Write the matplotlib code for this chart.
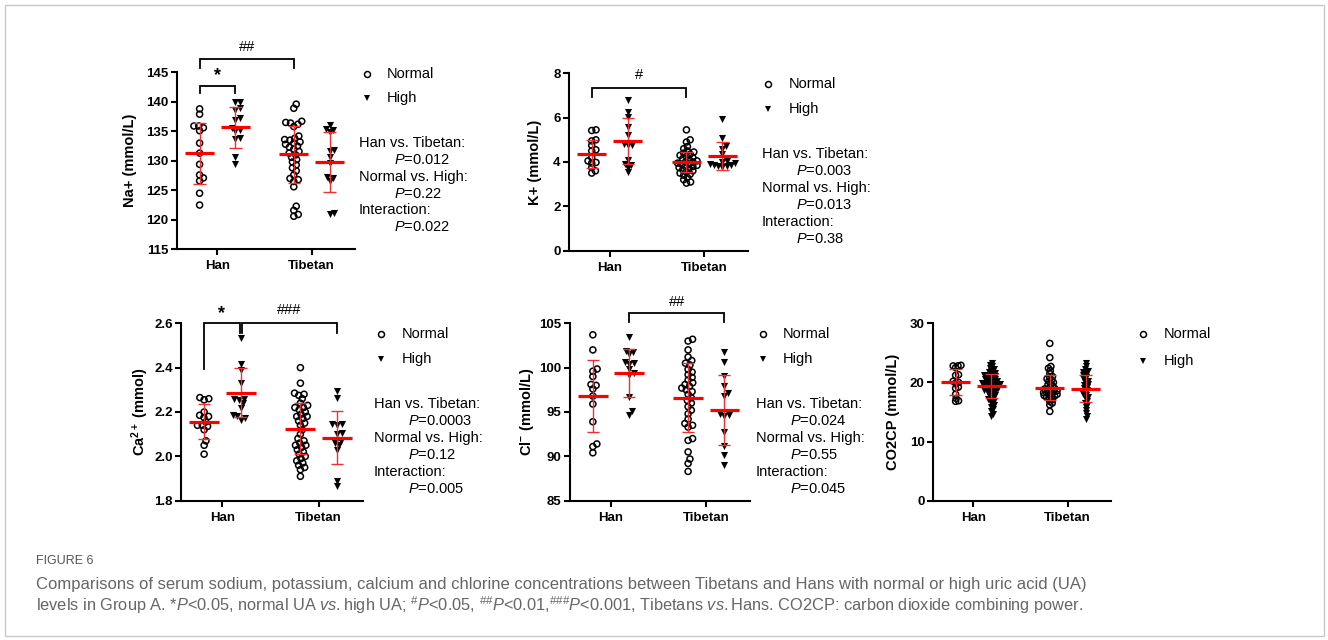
import numpy as np
import matplotlib
matplotlib.use("Agg")
import matplotlib.pyplot as plt
from matplotlib.patches import Rectangle

plt.rcParams['font.family'] = ['Liberation Sans', 'DejaVu Sans']
plt.rcParams['mathtext.fontset'] = 'custom'
plt.rcParams['mathtext.rm'] = 'Liberation Sans'
plt.rcParams['mathtext.it'] = 'Liberation Sans:italic'
plt.rcParams['mathtext.bf'] = 'Liberation Sans:bold'

# ---- data (group order: Han normal, Han high, Tibetan normal, Tibetan high)
groups = ["Han", "Tibetan"]
legend_labels = ["Normal", "High"]

na_han_normal = [138.8, 137.9, 135.9, 135.6, 135.1, 135.9, 133.0, 131.3, 129.4, 127.6, 127.1, 126.6, 124.5, 122.5]
na_han_high = [140.0, 139.9, 139.0, 138.6, 137.2, 137.0, 135.6, 135.3, 135.1, 133.9, 133.7, 130.6, 129.5]
na_tib_normal = [139.6, 138.9, 136.7, 136.5, 136.4, 136.2, 135.8, 134.2, 133.8, 133.6, 133.5, 133.2, 133.0,
                 132.8, 132.5, 132.3, 132.0, 131.6, 131.3, 131.0, 130.6, 130.2, 129.8, 129.3, 128.8, 128.3,
                 127.6, 127.0, 126.8, 126.5, 125.6, 122.3, 121.6, 120.9, 120.6]
na_tib_high = [136.0, 135.4, 135.3, 134.8, 131.8, 131.7, 130.6, 129.6, 127.3, 127.1, 126.6, 121.2, 121.0]
na_mean = [131.3, 135.7, 131.1, 129.8]
na_sd = [5.15, 3.5, 4.8, 5.05]

k_han_normal = [5.45, 5.42, 5.0, 4.95, 4.75, 4.55, 4.5, 4.2, 4.05, 3.98, 3.95, 3.75, 3.6, 3.5]
k_han_high = [6.8, 6.27, 6.05, 5.6, 5.2, 4.8, 4.78, 4.75, 4.1, 3.9, 3.85, 3.75, 3.55]
k_tib_normal = [5.45, 5.0, 4.9, 4.7, 4.6, 4.5, 4.45, 4.4, 4.35, 4.3, 4.25, 4.2, 4.15, 4.1, 4.05, 4.0, 4.0,
                3.95, 3.9, 3.9, 3.85, 3.8, 3.8, 3.75, 3.7, 3.65, 3.6, 3.55, 3.5, 3.45, 3.4, 3.3, 3.2, 3.1, 3.05]
k_tib_high = [5.95, 5.07, 4.7, 4.6, 4.35, 4.05, 4.0, 3.95, 3.9, 3.88, 3.85, 3.82, 3.8, 3.78]
k_mean = [4.36, 4.95, 4.0, 4.27]
k_sd = [0.64, 1.02, 0.47, 0.63]

ca_han_normal = [2.265, 2.26, 2.255, 2.2, 2.185, 2.18, 2.175, 2.155, 2.14, 2.14, 2.135, 2.12, 2.07, 2.05, 2.01]
ca_han_high = [2.535, 2.415, 2.39, 2.33, 2.26, 2.26, 2.255, 2.24, 2.22, 2.185, 2.18, 2.175, 2.165]
ca_tib_normal = [2.40, 2.33, 2.285, 2.28, 2.275, 2.26, 2.24, 2.23, 2.22, 2.22, 2.21, 2.2, 2.19, 2.18, 2.18,
                 2.17, 2.16, 2.15, 2.14, 2.12, 2.1, 2.08, 2.07, 2.06, 2.05, 2.05, 2.04, 2.03, 2.02, 2.01,
                 2.0, 1.99, 1.98, 1.97, 1.96, 1.95, 1.94, 1.91]
ca_tib_high = [2.295, 2.262, 2.145, 2.14, 2.145, 2.105, 2.1, 2.07, 2.06, 2.05, 2.03, 1.89, 1.865]
ca_mean = [2.157, 2.287, 2.125, 2.085]
ca_sd = [0.077, 0.11, 0.115, 0.12]

cl_han_normal = [103.7, 102.0, 99.85, 99.6, 99.0, 98.1, 98.0, 97.6, 96.8, 95.9, 93.9, 91.4, 91.1, 90.4]
cl_han_high = [103.4, 101.9, 101.8, 101.5, 100.6, 100.5, 100.4, 99.8, 99.4, 99.2, 96.7, 94.7, 95.1]
cl_tib_normal = [103.2, 103.0, 102.0, 101.2, 100.8, 100.5, 100.3, 99.8, 99.5, 99.2, 98.9, 98.6, 98.3, 98.1,
                 97.9, 97.7, 97.5, 97.3, 97.0, 96.6, 96.3, 96.0, 95.6, 95.2, 94.8, 94.2, 93.7, 93.5, 93.3,
                 92.0, 91.8, 90.5, 89.7, 89.2, 88.3]
cl_tib_high = [101.8, 100.6, 99.1, 97.9, 97.1, 96.8, 94.8, 94.7, 94.6, 92.7, 91.2, 90.2, 89.0]
cl_mean = [96.85, 99.35, 96.6, 95.25]
cl_sd = [4.05, 2.7, 3.9, 3.95]

co2_han_normal = [22.9, 22.8, 22.8, 22.5, 21.3, 21.2, 20.2, 20.0, 19.9, 19.2, 19.0, 18.0, 17.3, 16.9, 16.8]
co2_han_high = [23.3, 23.0, 22.7, 22.4, 22.2, 22.0, 21.8, 21.6, 21.5, 21.3, 21.2, 21.1, 21.0, 20.9, 20.8,
                20.6, 20.5, 20.4, 20.3, 20.2, 20.1, 20.0, 19.9, 19.9, 19.8, 19.7, 19.6, 19.6, 19.5, 19.4,
                19.3, 19.2, 19.1, 19.0, 18.9, 18.8, 18.7, 18.6, 18.5, 18.4, 18.2, 18.0, 17.8, 17.6, 17.4,
                17.2, 17.0, 16.8, 16.5, 16.2, 15.9, 15.5, 15.1, 14.7, 14.3]
co2_tib_normal = [26.6, 24.2, 22.7, 22.4, 22.0, 21.5, 21.0, 20.8, 20.6, 20.4, 20.2, 20.0, 19.8, 19.6, 19.4,
                  19.2, 19.0, 18.9, 18.8, 18.7, 18.6, 18.5, 18.4, 18.3, 18.2, 18.1, 18.0, 17.9, 17.8, 17.7,
                  17.6, 17.5, 17.3, 17.1, 16.8, 16.5, 16.2, 15.1]
co2_tib_high = [23.3, 22.8, 22.2, 22.0, 21.8, 21.6, 21.3, 21.0, 20.8, 20.5, 20.3, 20.0, 19.8, 19.5, 19.3,
                19.0, 18.8, 18.5, 18.3, 18.0, 17.8, 17.5, 17.2, 16.8, 16.5, 16.2, 15.8, 15.3, 14.8, 14.3, 13.9]
co2_mean = [20.05, 19.4, 19.1, 18.95]
co2_sd = [2.2, 1.95, 2.15, 2.3]

na_stats = ["0.012", "0.22", "0.022"]
k_stats = ["0.003", "0.013", "0.38"]
ca_stats = ["0.0003", "0.12", "0.005"]
cl_stats = ["0.024", "0.55", "0.045"]
stat_titles = ["Han vs. Tibetan:", "Normal vs. High:", "Interaction:"]

caption_title = "FIGURE 6"
caption_1 = ("Comparisons of serum sodium, potassium, calcium and chlorine concentrations between "
             "Tibetans and Hans with normal or high uric acid (UA)")
caption_2 = (r"levels in Group A. *$\it{P}$<0.05, normal UA $\it{vs.}$high UA; $^{\#}\it{P}$<0.05, "
             r"$^{\#\#}\it{P}$<0.01,$^{\#\#\#}\it{P}$<0.001, Tibetans $\it{vs.}$Hans. "
             r"CO2CP: carbon dioxide combining power.")

# ---- layout (pixels of the 1328x640 canvas)
W, H = 1328, 640
OFF = 0.19
pos = {"HN": -OFF, "HH": OFF, "TN": 1 - OFF, "TH": 1 + OFF}

panels = [
    dict(rect=(177, 72.3, 355, 249.3), ylabel="Na+ (mmol/L)", ylab_x=130,
         data=[na_han_normal, na_han_high, na_tib_normal, na_tib_high], mean=na_mean, sd=na_sd,
         ylim=(115, 145), yticks=[115, 120, 125, 130, 135, 140, 145], fmt="{:.0f}",
         leg=(367, 387, 74, 98), stats=na_stats, stat_xy=(359, 394, 141.7), d=4.8,
         brackets=[("HN", 0, "TN", 0, 147.25, 145.73, 145.73, "##", 149.3),
                   ("HN", 0, "HH", 0, 142.7, 141.5, 141.5, "*", 144.4)]),
    dict(rect=(569, 73.3, 748, 250.7), ylabel="K+ (mmol/L)", ylab_x=535,
         data=[k_han_normal, k_han_high, k_tib_normal, k_tib_high], mean=k_mean, sd=k_sd,
         ylim=(0, 8), yticks=[0, 2, 4, 6, 8], fmt="{:.0f}",
         leg=(768, 789, 84, 109), stats=k_stats, stat_xy=(762, 796, 153.3), d=4.3,
         brackets=[("HN", 0, "TN", 0, 7.34, 6.95, 6.95, "#", 7.92)]),
    dict(rect=(181, 323.3, 363, 500.7), ylabel=r"$\mathbf{Ca^{2+}}$ (mmol)", ylab_x=140,
         data=[ca_han_normal, ca_han_high, ca_tib_normal, ca_tib_high], mean=ca_mean, sd=ca_sd,
         ylim=(1.8, 2.6), yticks=[1.8, 2.0, 2.2, 2.4, 2.6], fmt="{:.1f}",
         leg=(381, 402, 334, 359), stats=ca_stats, stat_xy=(374, 408, 403.3), d=4.8,
         brackets=[("HN", 0, "HH", -0.012, 2.6, 2.392, 2.558, "*", 2.645),
                   ("HH", 0.012, "TH", 0, 2.6, 2.558, 2.558, "###", 2.66)]),
    dict(rect=(570, 323.3, 750, 500.7), ylabel=r"$\mathbf{Cl^{-}}$ (mmol/L)", ylab_x=527,
         data=[cl_han_normal, cl_han_high, cl_tib_normal, cl_tib_high], mean=cl_mean, sd=cl_sd,
         ylim=(85, 105), yticks=[85, 90, 95, 100, 105], fmt="{:.0f}",
         leg=(763, 783, 334, 359), stats=cl_stats, stat_xy=(756, 790, 403.3), d=4.8,
         brackets=[("HH", 0, "TH", 0, 106.13, 105.11, 105.11, "##", 107.4)]),
    dict(rect=(933, 323.3, 1111, 500.7), ylabel="CO2CP (mmol/L)", ylab_x=893,
         data=[co2_han_normal, co2_han_high, co2_tib_normal, co2_tib_high], mean=co2_mean, sd=co2_sd,
         ylim=(0, 30), yticks=[0, 10, 20, 30], fmt="{:.0f}",
         leg=(1143, 1164, 334, 361), stats=None, stat_xy=None, d=3.0,
         brackets=[]),
]


def fx(x):
    return x / W


def fy(y):
    return 1 - y / H


def swarm(ypx, d):
    """x offsets (pixels) so that markers of diameter d do not overlap"""
    xs = np.zeros(len(ypx))
    placed = []
    for i in np.argsort(ypx):
        y = ypx[i]
        near = [(px, py) for px, py in placed if abs(py - y) < d]
        cands = [0.0]
        for px, py in near:
            dx = np.sqrt(d * d - (py - y) ** 2)
            cands += [px + dx, px - dx]
        cands.sort(key=abs)
        for c in cands:
            if all((c - px) ** 2 + (y - py) ** 2 >= d * d - 1e-6 for px, py in near):
                xs[i] = c
                break
        placed.append((xs[i], y))
    return xs


fig = plt.figure(figsize=(W / 100, H / 100), dpi=100)
fig.patches.append(Rectangle((fx(4.5), fy(635.5)), fx(1319), 1 - fy(631), transform=fig.transFigure,
                             fill=False, edgecolor="#c8c8c8", linewidth=1.0))

keys = ["HN", "HH", "TN", "TH"]
markers = ["o", "v", "o", "v"]

for p in panels:
    l, t, r, b = p["rect"]
    ax = fig.add_axes([fx(l), fy(b), fx(r - l), (b - t) / H])
    ax.set_xlim(-0.43, 1.46)
    ax.set_ylim(*p["ylim"])
    wpx, hpx = r - l, b - t
    ppx = wpx / (1.46 + 0.43)
    ppy = hpx / (p["ylim"][1] - p["ylim"][0])

    for k, vals, mk, m, s in zip(keys, p["data"], markers, p["mean"], p["sd"]):
        vals = np.array(vals)
        xoff = swarm(vals * ppy, p["d"]) / ppx
        x = pos[k] + xoff
        if mk == "o":
            ax.scatter(x, vals, s=19, marker="o", facecolors="none", edgecolors="black",
                       linewidths=1.1, zorder=2, clip_on=False)
        else:
            ax.scatter(x, vals, s=26, marker="v", color="black", linewidths=0, zorder=2, clip_on=False)
        c = pos[k]
        ax.vlines(c, m - s, m + s, color="#f03030", lw=1.0, zorder=3)
        ax.hlines([m - s, m + s], c - 0.065, c + 0.065, color="#f03030", lw=1.0, zorder=3)
        ax.hlines(m, c - 0.155, c + 0.155, color="#ff0000", lw=2.3, zorder=4)

    for k1, d1, k2, d2, top, y1, y2, lab, ty in p["brackets"]:
        x1, x2 = pos[k1] + d1, pos[k2] + d2
        ax.plot([x1, x1, x2, x2], [y1, top, top, y2], color="black", lw=1.3, clip_on=False,
                solid_joinstyle="miter")
        if lab == "*":
            ax.text((x1 + x2) / 2, ty, lab, ha="center", va="center", fontsize=13,
                    fontweight="bold", clip_on=False)
        else:
            ax.text((x1 + x2) / 2, ty, lab, ha="center", va="center", fontsize=10.5, clip_on=False)

    for side in ["top", "right"]:
        ax.spines[side].set_visible(False)
    for side in ["left", "bottom"]:
        ax.spines[side].set_linewidth(1.5)
    ax.set_xticks([0, 1])
    ax.set_xticklabels(groups, fontsize=9.5, fontweight="bold")
    ax.set_yticks(p["yticks"])
    ax.set_yticklabels([p["fmt"].format(v) for v in p["yticks"]], fontsize=9.5, fontweight="bold")
    ax.tick_params(axis="both", width=1.5, length=4, direction="out")
    ax.tick_params(axis="y", pad=2)
    ax.tick_params(axis="x", pad=4)

    fig.text(fx(p["ylab_x"]), fy((t + b) / 2), p["ylabel"], rotation=90, ha="center", va="center",
             fontsize=10.5, fontweight="bold")

    # legend
    mx, tx, y1, y2 = p["leg"]
    ax.plot([fx(mx)], [fy(y1)], marker="o", ms=4.3, mfc="none", mec="black", mew=1.1,
            transform=fig.transFigure, clip_on=False)
    ax.plot([fx(mx)], [fy(y2)], marker="v", ms=5.0, color="black", mew=0,
            transform=fig.transFigure, clip_on=False)
    fig.text(fx(tx), fy(y1), legend_labels[0], va="center", fontsize=10.5)
    fig.text(fx(tx), fy(y2), legend_labels[1], va="center", fontsize=10.5)

    # two-way ANOVA results
    if p["stats"]:
        sx, ix, sy = p["stat_xy"]
        for i, (title, pv) in enumerate(zip(stat_titles, p["stats"])):
            yc = sy + 2 * i * 16.9
            fig.text(fx(sx), fy(yc + 5.2), title, va="baseline", fontsize=10.5)
            fig.text(fx(ix), fy(yc + 16.9 + 5.2), r"$\it{P}$=" + pv, va="baseline", fontsize=10.5)

cap_font = ["Liberation Sans", "DejaVu Sans"]
fig.text(fx(36), fy(561), caption_title, va="center", fontsize=9, color="#555555", family=cap_font)
fig.text(fx(36), fy(584), caption_1, va="center", fontsize=12, color="#666666", family=cap_font)
fig.text(fx(36), fy(605), caption_2, va="center", fontsize=11.8, color="#666666", family=cap_font)

fig.savefig("out.png", dpi=100)
